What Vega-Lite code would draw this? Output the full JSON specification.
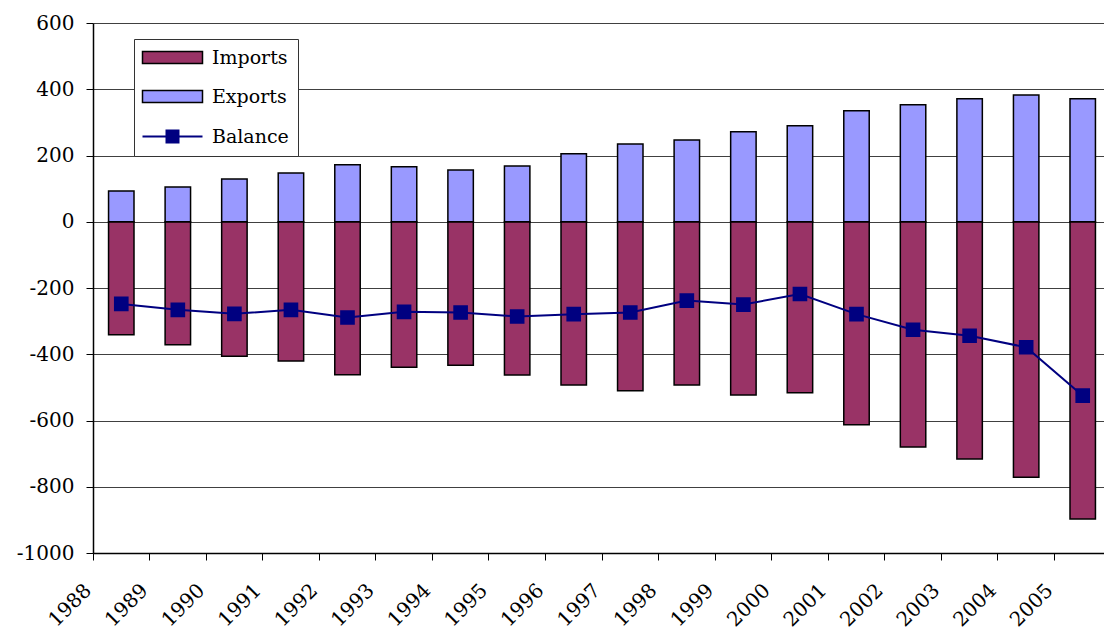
{
  "$schema": "https://vega.github.io/schema/vega-lite/v6.json",
  "autosize": {"type": "none"},
  "width": 1011,
  "height": 530,
  "padding": {"left": 93, "top": 23, "right": 0, "bottom": 77},
  "background": "white",
  "config": {
    "view": {"stroke": null},
    "font": "DejaVu Serif",
    "axis": {"labelFont": "DejaVu Serif", "labelFontSize": 20, "labelColor": "black", "domainColor": "black", "tickColor": "black", "title": null},
    "legend": {
      "orient": "none", "legendX": 41, "legendY": 16,
      "symbolSize": 3600, "symbolOffset": 20, "symbolStrokeWidth": 1.5,
      "labelFont": "DejaVu Serif", "labelFontSize": 19, "labelColor": "black", "labelOffset": 30,
      "rowPadding": 19, "padding": 9, "strokeColor": "#333333", "fillColor": "white"
    }
  },
  "data": {"values": [
    {"year": "1988", "series": "Imports", "value": -341}, {"year": "1988", "series": "Exports", "value": 93}, {"year": "1988", "series": "Balance", "value": -248},
    {"year": "1989", "series": "Imports", "value": -371}, {"year": "1989", "series": "Exports", "value": 105}, {"year": "1989", "series": "Balance", "value": -266},
    {"year": "1990", "series": "Imports", "value": -406}, {"year": "1990", "series": "Exports", "value": 129}, {"year": "1990", "series": "Balance", "value": -278},
    {"year": "1991", "series": "Imports", "value": -420}, {"year": "1991", "series": "Exports", "value": 147}, {"year": "1991", "series": "Balance", "value": -266},
    {"year": "1992", "series": "Imports", "value": -462}, {"year": "1992", "series": "Exports", "value": 172}, {"year": "1992", "series": "Balance", "value": -289},
    {"year": "1993", "series": "Imports", "value": -439}, {"year": "1993", "series": "Exports", "value": 166}, {"year": "1993", "series": "Balance", "value": -272},
    {"year": "1994", "series": "Imports", "value": -433}, {"year": "1994", "series": "Exports", "value": 156}, {"year": "1994", "series": "Balance", "value": -274},
    {"year": "1995", "series": "Imports", "value": -463}, {"year": "1995", "series": "Exports", "value": 168}, {"year": "1995", "series": "Balance", "value": -286},
    {"year": "1996", "series": "Imports", "value": -493}, {"year": "1996", "series": "Exports", "value": 205}, {"year": "1996", "series": "Balance", "value": -279},
    {"year": "1997", "series": "Imports", "value": -510}, {"year": "1997", "series": "Exports", "value": 235}, {"year": "1997", "series": "Balance", "value": -274},
    {"year": "1998", "series": "Imports", "value": -493}, {"year": "1998", "series": "Exports", "value": 247}, {"year": "1998", "series": "Balance", "value": -238},
    {"year": "1999", "series": "Imports", "value": -523}, {"year": "1999", "series": "Exports", "value": 272}, {"year": "1999", "series": "Balance", "value": -250},
    {"year": "2000", "series": "Imports", "value": -516}, {"year": "2000", "series": "Exports", "value": 290}, {"year": "2000", "series": "Balance", "value": -218},
    {"year": "2001", "series": "Imports", "value": -613}, {"year": "2001", "series": "Exports", "value": 335}, {"year": "2001", "series": "Balance", "value": -279},
    {"year": "2002", "series": "Imports", "value": -680}, {"year": "2002", "series": "Exports", "value": 353}, {"year": "2002", "series": "Balance", "value": -326},
    {"year": "2003", "series": "Imports", "value": -716}, {"year": "2003", "series": "Exports", "value": 371}, {"year": "2003", "series": "Balance", "value": -344},
    {"year": "2004", "series": "Imports", "value": -771}, {"year": "2004", "series": "Exports", "value": 383}, {"year": "2004", "series": "Balance", "value": -379},
    {"year": "2005", "series": "Imports", "value": -897}, {"year": "2005", "series": "Exports", "value": 371}, {"year": "2005", "series": "Balance", "value": -525}
  ]},
  "encoding": {
    "x": {
      "field": "year", "type": "ordinal",
      "scale": {"type": "band", "paddingInner": 0, "paddingOuter": 0, "range": [0, 1018]},
      "axis": {"bandPosition": 0, "labelAngle": -45, "labelAlign": "right", "labelBaseline": "middle", "labelPadding": 27, "labelOffset": -33, "tickSize": 7, "domainWidth": 1.5, "tickWidth": 1, "grid": false}
    },
    "y": {
      "field": "value", "type": "quantitative",
      "scale": {"domain": [-1000, 600], "nice": false, "zero": false},
      "axis": {"values": [-1000, -800, -600, -400, -200, 0, 200, 400, 600], "labelExpr": "'' + datum.value", "grid": true, "gridColor": "#404040", "gridWidth": 1, "tickSize": 7, "labelPadding": 12, "domainWidth": 1.5}
    },
    "color": {
      "field": "series", "type": "nominal",
      "scale": {"domain": ["Imports", "Exports", "Balance"], "range": ["#993366", "#9999FF", "#000080"]},
      "legend": {
        "title": null,
        "symbolType": "M-1,-0.2H1V0.2H-1Z",
        "encode": {"symbols": {
          "update": {
          "shape": {"signal": "datum.value === 'Balance' ? 'M-1,0H1M-0.2,-0.2H0.2V0.2H-0.2Z' : 'M-1,-0.2H1V0.2H-1Z'"},
          "fill": {"signal": "datum.value === 'Imports' ? '#993366' : datum.value === 'Exports' ? '#9999FF' : '#000080'"},
          "strokeWidth": {"signal": "datum.value === 'Balance' ? 2 : 1.5"},
          "opacity": {"value": 1}
        }}}
      }
    },
    "stroke": {
      "field": "series", "type": "nominal",
      "scale": {"domain": ["Imports", "Exports", "Balance"], "range": ["black", "black", "#000080"]},
      "legend": {"title": null, "symbolType": "M-1,-0.2H1V0.2H-1Z"}
    }
  },
  "layer": [
    {
      "transform": [{"filter": "datum.series !== 'Balance'"}],
      "mark": {"type": "bar", "width": {"band": 0.45}, "strokeWidth": 1.5},
      "encoding": {"y": {"field": "value", "type": "quantitative", "stack": null}}
    },
    {
      "transform": [{"filter": "datum.series === 'Balance'"}],
      "mark": {"type": "line", "strokeWidth": 2, "point": {"shape": "square", "size": 160, "filled": true, "color": "#000080", "opacity": 1}}
    }
  ]
}
